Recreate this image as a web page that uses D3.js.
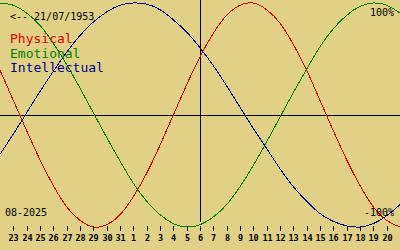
<!DOCTYPE html>
<html>
<head>
<meta charset="utf-8">
<script src="https://cdn.jsdelivr.net/npm/d3@7"></script>
<style>
	html, body { margin: 0; padding: 0; background: #e1d186; }
	svg { display: block; }
	text { font-family: "DejaVu Sans Mono", monospace; }
</style>
</head>
<body>
<div id="chart"></div>
<script>
const width = 400,
		height = 250;

// day labels under the ticks (positions 1..29)
const dayLabels = ["23","24","25","26","27","28","29","30","31","1","2","3","4","5","6",
	"7","8","9","10","11","12","13","14","15","16","17","18","19","20"];

// values at each day step, edge to edge (31 points)
const physical = [0.40, 0.13, -0.14, -0.40, -0.63, -0.82, -0.94, -1.00, -0.98, -0.89, -0.73,
	-0.52, -0.27, 0.00, 0.27, 0.52, 0.73, 0.89, 0.98, 1.00, 0.94, 0.82, 0.63, 0.40, 0.13,
	-0.14, -0.40, -0.63, -0.82, -0.94, -1.00];
const emotional = [1.00, 0.98, 0.91, 0.80, 0.64, 0.45, 0.24, 0.02, -0.20, -0.41, -0.61,
	-0.77, -0.89, -0.97, -1.00, -0.98, -0.91, -0.80, -0.64, -0.45, -0.24, -0.02, 0.20, 0.41,
	0.61, 0.77, 0.89, 0.97, 1.00, 0.98, 0.91];
const intellectual = [-0.35, -0.17, 0.02, 0.21, 0.39, 0.56, 0.71, 0.83, 0.92, 0.98, 1.00,
	0.99, 0.94, 0.85, 0.74, 0.60, 0.44, 0.26, 0.07, -0.12, -0.30, -0.48, -0.64, -0.77, -0.88,
	-0.95, -0.99, -1.00, -0.97, -0.90, -0.80];

const series = [
	{ name: "Physical", values: physical, color: "#e00000" },
	{ name: "Emotional", values: emotional, color: "#008000" },
	{ name: "Intellectual", values: intellectual, color: "#000090" }
];

const svg = d3.select("#chart")
	.append("svg")
		.attr("width", width)
		.attr("height", height);

const x = d3.scaleLinear().domain([0, 30]).range([0, width]);
const y = d3.scaleLinear().domain([-1, 1]).range([227, 3]);

// axes lines
svg.append("line")
	.attr("x1", 0).attr("x2", width)
	.attr("y1", y(0) + 0.5).attr("y2", y(0) + 0.5)
	.attr("stroke", "#000");

svg.append("line")
	.attr("x1", x(15) + 0.5).attr("x2", x(15) + 0.5)
	.attr("y1", 0).attr("y2", 222)
	.attr("stroke", "#000");

// curves
const line = d3.line()
	.x((d, i) => x(i))
	.y((d) => y(d))
	.curve(d3.curveNatural);

svg.append("g")
	.selectAll("path")
		.data(series)
		.enter()
		.append("path")
			.attr("d", (d) => line(d.values))
			.attr("fill", "none")
			.attr("stroke", (d) => d.color)
			.attr("stroke-width", 1)
			.attr("shape-rendering", "crispEdges");

// day ticks
const ticks = svg.append("g")
	.selectAll("g")
		.data(dayLabels)
		.enter()
		.append("g")
			.attr("transform", (d, i) => `translate(${Math.round(x(i + 1)) + 0.5},0)`);

ticks.append("line")
	.attr("y1", 226).attr("y2", 231)
	.attr("stroke", "#000");

ticks.append("text")
	.attr("y", 241)
	.attr("text-anchor", "middle")
	.attr("font-size", 8.5)
	.attr("font-weight", "bold")
	.text((d) => d);

// labels
svg.append("text")
	.attr("x", 10).attr("y", 20)
	.attr("font-size", 10)
	.text("<-- 21/07/1953");

svg.append("g")
	.selectAll("text")
		.data(series)
		.enter()
		.append("text")
			.attr("x", 10)
			.attr("y", (d, i) => 43 + i * 14.5)
			.attr("font-size", 13)
			.attr("fill", (d) => d.color)
			.text((d) => d.name);

svg.append("text")
	.attr("x", 394).attr("y", 16)
	.attr("text-anchor", "end")
	.attr("font-size", 10)
	.text("100%");

svg.append("text")
	.attr("x", 394).attr("y", 216)
	.attr("text-anchor", "end")
	.attr("font-size", 10)
	.text("-100%");

svg.append("text")
	.attr("x", 5).attr("y", 216)
	.attr("font-size", 10)
	.text("08-2025");
</script>
</body>
</html>
